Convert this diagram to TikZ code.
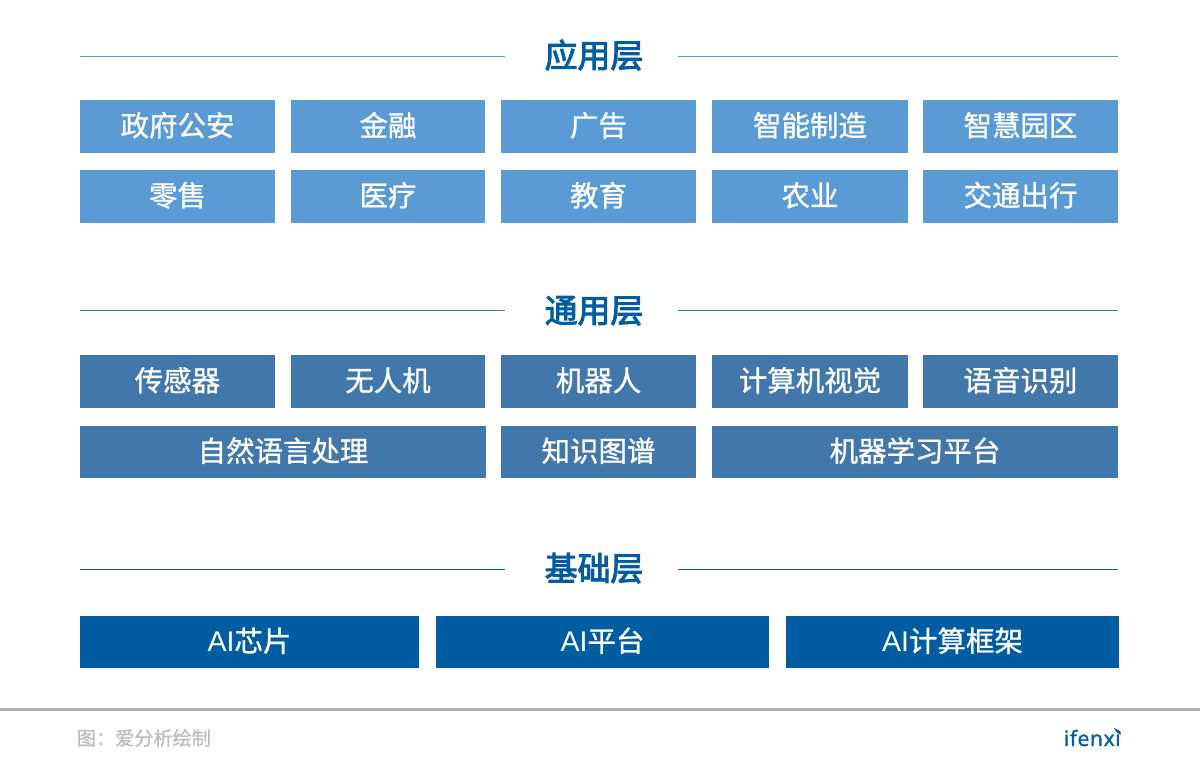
\documentclass[tikz,border=0pt]{standalone}
\usepackage{fontspec}
\setmainfont{Noto Sans CJK SC}
\setsansfont{Liberation Sans}
\newfontfamily\tilefont[FakeBold=1]{Noto Sans CJK SC}
\newfontfamily\headfont[FakeBold=3]{Noto Sans CJK SC}
\newfontfamily\logofont[FakeBold=1.5,LetterSpace=3]{Open Sans}
\definecolor{appblue}{HTML}{5B9BD5}
\definecolor{genblue}{HTML}{4177AB}
\definecolor{basblue}{HTML}{005DA2}
\definecolor{footgray}{HTML}{B0B0B0}
\definecolor{srcgray}{HTML}{BDBDBD}
\tikzset{
	tile/.style={inner sep=0pt,outer sep=0pt,text=white,font=\tilefont\fontsize{16.2}{16}\selectfont,text height=13pt,text depth=2.1pt,minimum height=#1},
	tile/.default=30pt,
	apptile/.style={tile,fill=appblue},
	gentile/.style={tile,fill=genblue},
	bastile/.style={tile,fill=basblue},
	head/.style={font=\headfont\fontsize{18.7}{18.7}\selectfont,text=basblue,inner sep=0pt,text height=15pt,text depth=3pt},
}
\begin{document}
\begin{tikzpicture}[x=0.02cm,y=-0.02cm]
			\useasboundingbox (0,0) rectangle (1200,779);

			\node[head] (app) at (594,57) {应用层};
			\coordinate (appLa) at (80,56.5);
			\coordinate (appLb) at (505,56.5);
			\coordinate (appRa) at (678,56.5);
			\coordinate (appRb) at (1118,56.5);
			\draw[appblue,line width=0.6pt] (appLa) -- (appLb);
			\draw[appblue,line width=0.6pt] (appRa) -- (appRb);

			\node[apptile,text width=110.5pt,align=center] (gov) at (177.5,126.5) {政府公安};
			\node[apptile,text width=110pt,align=center] (fin) at (388,126.5) {金融};
			\node[apptile,text width=110.5pt,align=center] (ads) at (598.5,126.5) {广告};
			\node[apptile,text width=111pt,align=center] (mfg) at (810,126.5) {智能制造};
			\node[apptile,text width=110.5pt,align=center] (park) at (1020.5,126.5) {智慧园区};
			\node[apptile,text width=110.5pt,align=center] (ret) at (177.5,196.5) {零售};
			\node[apptile,text width=110pt,align=center] (med) at (388,196.5) {医疗};
			\node[apptile,text width=110.5pt,align=center] (edu) at (598.5,196.5) {教育};
			\node[apptile,text width=111pt,align=center] (agr) at (810,196.5) {农业};
			\node[apptile,text width=110.5pt,align=center] (trf) at (1020.5,196.5) {交通出行};

			\node[head] (gen) at (594,312) {通用层};
			\coordinate (genLa) at (80,310.5);
			\coordinate (genLb) at (505,310.5);
			\coordinate (genRa) at (678,310.5);
			\coordinate (genRb) at (1118,310.5);
			\draw[genblue,line width=0.6pt] (genLa) -- (genLb);
			\draw[genblue,line width=0.6pt] (genRa) -- (genRb);

			\node[gentile,text width=110.5pt,align=center] (sen) at (177.5,381.5) {传感器};
			\node[gentile,text width=110pt,align=center] (uav) at (388,381.5) {无人机};
			\node[gentile,text width=110.5pt,align=center] (rob) at (598.5,381.5) {机器人};
			\node[gentile,text width=111pt,align=center] (cv) at (810,381.5) {计算机视觉};
			\node[gentile,text width=110.5pt,align=center] (asr) at (1020.5,381.5) {语音识别};
			\node[gentile,text width=230.8pt,align=center] (nlp) at (283,452) {自然语言处理};
			\node[gentile,text width=110.5pt,align=center] (kg) at (598.5,452) {知识图谱};
			\node[gentile,text width=231pt,align=center] (mlp) at (915,452) {机器学习平台};

			\node[head] (bas) at (594,570) {基础层};
			\coordinate (basLa) at (80,569.5);
			\coordinate (basLb) at (505,569.5);
			\coordinate (basRa) at (678,569.5);
			\coordinate (basRb) at (1118,569.5);
			\draw[basblue,line width=0.6pt] (basLa) -- (basLb);
			\draw[basblue,line width=0.6pt] (basRa) -- (basRb);

			\node[bastile,text width=192.8pt,align=center] (chip) at (249.5,642) {\textsf{AI}芯片};
			\node[bastile,text width=189.4pt,align=center] (plat) at (602.5,642) {\textsf{AI}平台};
			\node[bastile,text width=189.4pt,align=center] (fram) at (952.5,642) {\textsf{AI}计算框架};

			\coordinate (footL) at (0,709.5);
			\coordinate (footR) at (1200,709.5);
			\draw[footgray,line width=1.7pt] (footL) -- (footR);
			\node[font=\tilefont\fontsize{10.9}{11}\selectfont,text=srcgray,inner sep=0pt,anchor=west] (src) at (76.5,738) {图：爱分析绘制};
			\node[font=\logofont\fontsize{12}{12}\selectfont,text=basblue,inner sep=0pt,anchor=east] (logo) at (1121,738) {ifenxi};
			\fill[basblue] (1113.5,727.5) -- (1120.5,731.5) -- (1120.5,735) -- (1116.5,732) -- cycle;
		\end{tikzpicture}
\end{document}
